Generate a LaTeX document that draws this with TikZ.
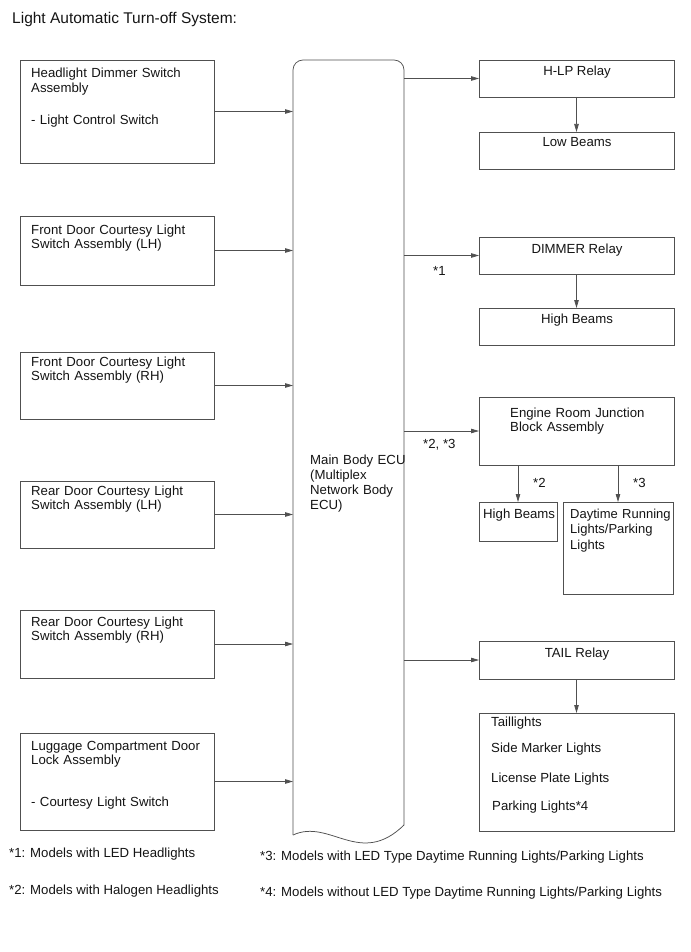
\documentclass[tikz,border=0pt]{standalone}
\usepackage{fontspec}
\setmainfont{Liberation Sans}
\usetikzlibrary{arrows.meta}
\definecolor{ln}{RGB}{80,80,80}
\definecolor{tx}{RGB}{20,20,20}
\begin{document}
\begin{tikzpicture}[x=1pt,y=-1pt,
  box/.style={draw=ln, line width=0.75pt, rectangle, inner sep=0pt, outer sep=0pt, anchor=north west},
  txt/.style={anchor=base west, inner sep=0pt, text width=185pt, align=left, text=tx,
    font=\fontsize{13.2}{14.2}\selectfont},
  ctxt/.style={anchor=base, inner sep=0pt, text=tx, font=\fontsize{13.2}{14.2}\selectfont},
  lbl/.style={anchor=base west, inner sep=0pt, text=tx, font=\fontsize{13.2}{14.2}\selectfont},
  arr/.style={draw=ln, line width=0.75pt, -{Triangle[length=8pt,width=4.5pt]}},
  eculine/.style={draw=ln, line width=0.75pt}
]
\useasboundingbox (0,0) rectangle (690,952);

% title
\node[anchor=base west, inner sep=0pt, text=tx, font=\fontsize{15.5}{18}\selectfont] (title) at (12,24) {Light Automatic Turn-off System:};

% left boxes
\node[box, minimum width=194pt, minimum height=103pt] (hd) at (20,60) {};
\node[box, minimum width=194pt, minimum height=69pt] (fl) at (20,216) {};
\node[box, minimum width=194pt, minimum height=67pt] (fr) at (20,352) {};
\node[box, minimum width=194pt, minimum height=67pt] (rl) at (20,481) {};
\node[box, minimum width=194pt, minimum height=68pt] (rr) at (20,610) {};
\node[box, minimum width=194pt, minimum height=97pt] (lg) at (20,733) {};

\node[txt] (thd) at (31,78) {Headlight Dimmer Switch\\Assembly};
\node[txt] (thd2) at (31,125) {- Light Control Switch};
\node[txt] (tfl) at (31,234) {Front Door Courtesy Light\\Switch Assembly (LH)};
\node[txt] (tfr) at (31,366) {Front Door Courtesy Light\\Switch Assembly (RH)};
\node[txt] (trl) at (31,495) {Rear Door Courtesy Light\\Switch Assembly (LH)};
\node[txt] (trr) at (31,626) {Rear Door Courtesy Light\\Switch Assembly (RH)};
\node[txt] (tlg) at (31,750) {Luggage Compartment Door\\Lock Assembly};
\node[txt] (tlg2) at (31,806) {- Courtesy Light Switch};

% main body ECU
\node[inner sep=0pt, outer sep=0pt, minimum width=111pt, minimum height=775pt, anchor=north west] (ecu) at (293,60) {};
\draw[eculine, rounded corners=10pt] (293,835) -- (293,60) -- (404,60) -- (404,825);
\draw[eculine] (293,835) .. controls (330,818) and (360,868) .. (404,825);
\node[anchor=base west, inner sep=0pt, text width=100pt, align=left, text=tx,
  font=\fontsize{13.2}{15.3}\selectfont] (tecu) at (310,464) {Main Body ECU\\(Multiplex\\Network Body\\ECU)};

% right boxes
\node[box, minimum width=195pt, minimum height=37pt] (hlp) at (479,60) {};
\node[box, minimum width=195pt, minimum height=37pt] (low) at (479,132) {};
\node[box, minimum width=195pt, minimum height=37pt] (dim) at (479,237) {};
\node[box, minimum width=195pt, minimum height=37pt] (hb) at (479,308) {};
\node[box, minimum width=195pt, minimum height=68pt] (eng) at (479,397) {};
\node[box, minimum width=78pt, minimum height=39pt] (hbs) at (479,502) {};
\node[box, minimum width=110pt, minimum height=92pt] (drl) at (563,502) {};
\node[box, minimum width=195pt, minimum height=38pt] (tail) at (479,641) {};
\node[box, minimum width=195pt, minimum height=118pt] (lamps) at (479,713) {};

\node[ctxt] (thlp) at (577,76) {H-LP Relay};
\node[ctxt] (tlow) at (577,147) {Low Beams};
\node[ctxt] (tdim) at (577,253) {DIMMER Relay};
\node[ctxt] (thb) at (577,323) {High Beams};
\node[txt] (teng) at (510,417) {Engine Room Junction\\Block Assembly};
\node[lbl] (thbs) at (483,518) {High Beams};
\node[txt, text width=105pt, font=\fontsize{13}{15.5}\selectfont] (tdrl) at (570,518) {Daytime Running\\Lights/Parking\\Lights};
\node[ctxt] (ttail) at (577,657) {TAIL Relay};
\node[lbl] (tl1) at (491,726) {Taillights};
\node[lbl] (tl2) at (491,752) {Side Marker Lights};
\node[lbl] (tl3) at (491,782) {License Plate Lights};
\node[lbl] (tl4) at (492,810) {Parking Lights*4};

% connectors
\draw[arr] (hd.east) -- (hd.east -| ecu.west);
\draw[arr] (fl.east) -- (fl.east -| ecu.west);
\draw[arr] (fr.east) -- (fr.east -| ecu.west);
\draw[arr] (rl.east) -- (rl.east -| ecu.west);
\draw[arr] (rr.east) -- (rr.east -| ecu.west);
\draw[arr] (lg.east) -- (lg.east -| ecu.west);

\draw[arr] (ecu.east |- hlp.west) -- (hlp.west);
\draw[arr] (ecu.east |- dim.west) -- (dim.west);
\draw[arr] (ecu.east |- eng.west) -- (eng.west);
\draw[arr] (ecu.east |- tail.west) -- (tail.west);

\draw[arr] (hlp.south) -- (low.north);
\draw[arr] (dim.south) -- (hb.north);
\draw[arr] (hbs.north |- eng.south) -- (hbs.north);
\draw[arr] (drl.north |- eng.south) -- (drl.north);
\draw[arr] (tail.south) -- (lamps.north);

% connector labels
\node[lbl] (l1) at (433,275) {*1};
\node[lbl] (l23) at (423,448) {*2, *3};
\node[lbl] (l2) at (533,487) {*2};
\node[lbl] (l3) at (633,487) {*3};

% footnotes
\node[lbl] (f1) at (9,857) {*1: Models with LED Headlights};
\node[lbl] (f2) at (9,894) {*2: Models with Halogen Headlights};
\node[lbl] (f3) at (260,860) {*3: Models with LED Type Daytime Running Lights/Parking Lights};
\node[lbl] (f4) at (260,896) {*4: Models without LED Type Daytime Running Lights/Parking Lights};
\end{tikzpicture}
\end{document}
